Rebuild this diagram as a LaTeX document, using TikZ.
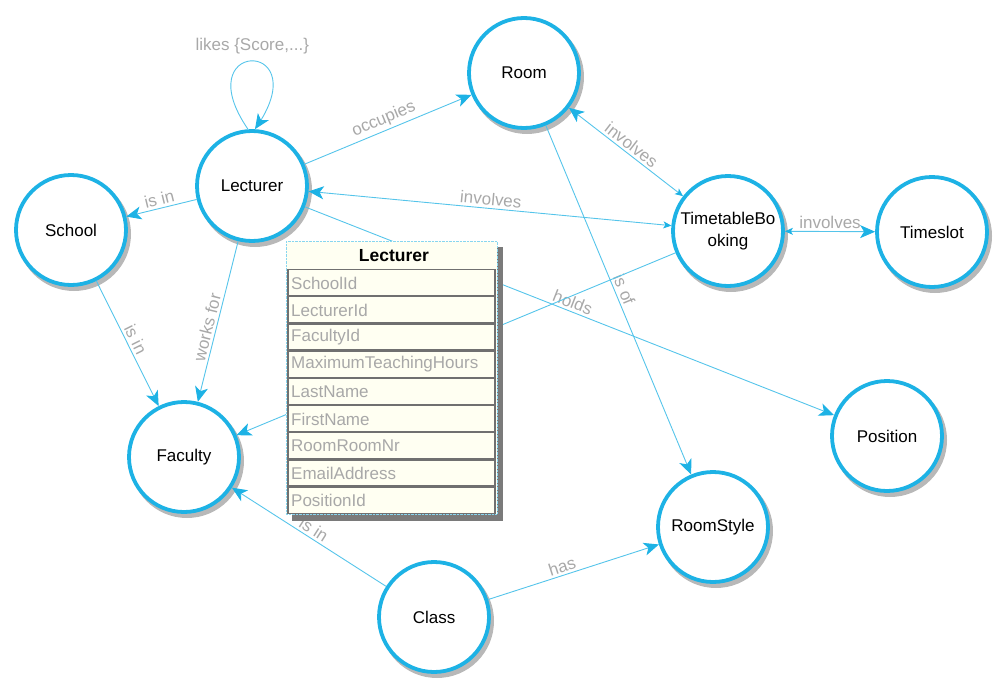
\documentclass[tikz,border=0pt]{standalone}
\usepackage{fontspec}
\setmainfont{Liberation Sans}
\usetikzlibrary{arrows.meta,bending}
\definecolor{ccyan}{HTML}{1DB2E5}
\definecolor{ecyan}{HTML}{55C4EA}
\definecolor{lgray}{HTML}{A8A8A8}
\definecolor{cream}{HTML}{FFFFF2}
\definecolor{shgray}{HTML}{B8B8B8}
\definecolor{tshadow}{HTML}{7A7A7A}
\definecolor{rowgray}{HTML}{707070}
\begin{document}
\begin{tikzpicture}[x=1pt,y=-1pt,
  ent/.style={circle, draw=ccyan, line width=3.8pt, fill=white, minimum size=110pt,
    inner sep=0pt, font=\fontsize{17}{22}\selectfont, align=center},
  edge/.style={draw=ecyan, line width=0.9pt,
    -{Stealth[length=15pt,width=13pt,inset=4pt,color=ccyan]}},
  bi/.style={draw=ecyan, line width=0.9pt,
    {Stealth[length=8pt,width=7pt,inset=2pt,color=ccyan]}-{Stealth[length=15pt,width=13pt,inset=4pt,color=ccyan]}},
  lbl/.style={font=\fontsize{17}{19}\selectfont, text=lgray, sloped, above, inner sep=2.5pt},
  rowtxt/.style={anchor=west, text=lgray, font=\fontsize{17}{19}\selectfont, inner sep=0pt},
  rowbox/.style={draw=rowgray, line width=1.2pt, fill=cream}]
\useasboundingbox (0,0) rectangle (1003,685);

% circles with shadows
\foreach \n/\x/\y/\t in {lec/252/186/Lecturer, room/524/73/Room, school/71/230/School,
  fac/184/457/Faculty, tt/728/231/{TimetableBo\\oking}, ts/932/232/Timeslot,
  pos/887/436/Position, rs/713/527/RoomStyle, cls/434/617/Class}{
  \fill[shgray] (\x+3,\y+4) circle[radius=57pt];
  \node[ent] (\n) at (\x,\y) {\t};
}

% edges
\draw[edge] (lec.94) .. controls (185,38) and (320,38) .. (lec.87)
  node[pos=0.5, above=3pt, font=\fontsize{17}{19}\selectfont, text=lgray] (likes) {likes \{Score,...\}};
\draw[edge] (lec) -- node[lbl] (l1) {occupies} (room);
\draw[edge] (lec) -- node[lbl] (l2) {is in} (school);
\draw[edge] (lec) -- node[lbl, pos=0.55] (l3) {works for} (fac);
\draw[edge] (school) -- node[lbl] (l4) {is in} (fac);
\draw[bi] (tt) -- node[lbl] (l5) {involves} (lec);
\draw[bi] (tt) -- node[lbl] (l6) {involves} (room);
\draw[bi] (tt) -- node[lbl] (l7) {involves} (ts);
\draw[edge] (lec) -- node[lbl, pos=0.5] (l8) {holds} (pos);
\draw[edge] (room) -- node[lbl, pos=0.48] (l9) {is of} (rs);
\draw[edge] (cls) -- node[lbl] (l10) {is in} (fac);
\draw[edge] (cls) -- node[lbl, pos=0.45] (l11) {has} (rs);
\draw[edge] (tt) -- (fac);

% table
\fill[tshadow] (292,247) rectangle (503,521);
\fill[cream] (286,241) rectangle (497,514);
\draw[ecyan!70, densely dotted] (286,241) rectangle (497,514);
\node[font=\bfseries\fontsize{17.5}{19}\selectfont, inner sep=0pt] (thead) at (394,256) {Lecturer};
\foreach \i/\t in {0/SchoolId, 1/LecturerId, 2/FacultyId, 3/MaximumTeachingHours,
  4/LastName, 5/FirstName, 6/RoomRoomNr, 7/EmailAddress, 8/PositionId}{
  \pgfmathsetmacro{\ta}{269.5+27.2*\i}
  \pgfmathsetmacro{\tb}{295.5+27.2*\i}
  \pgfmathsetmacro{\tc}{283+27.2*\i}
  \draw[rowbox] (288,\ta) rectangle (495,\tb);
  \node[rowtxt] (r\i) at (291,\tc) {\t};
}
\end{tikzpicture}
\end{document}
